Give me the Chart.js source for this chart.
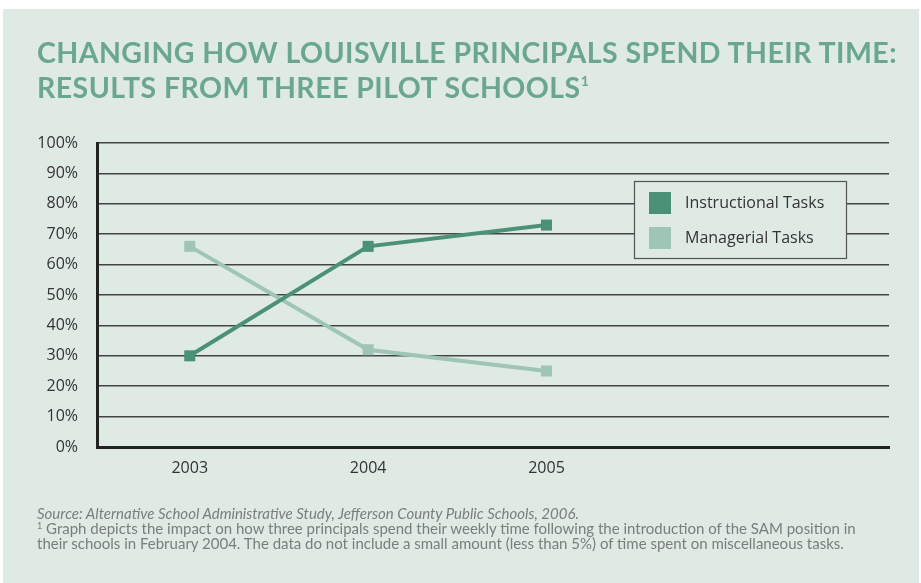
<!DOCTYPE html>
<html>
<head>
<meta charset="utf-8">
<script src="https://cdn.jsdelivr.net/npm/chart.js@4"></script>
<style>
  html, body { margin: 0; padding: 0; background: #ffffff; }
  body { width: 921px; height: 583px; position: relative; overflow: hidden; }
  #painel { position: absolute; left: 3px; top: 9px; width: 916px; height: 574px; background: #dfeae5; }
  #grafico { position: absolute; left: 0; top: 0; }
  #titulo {
    position: absolute; left: 37px; top: 35px; margin: 0;
    font-family: Lato, sans-serif; font-weight: 700; font-size: 28.5px; line-height: 35px;
    color: #6aa78c; letter-spacing: 0.45px; white-space: nowrap;
  }
  #titulo sup { font-size: 14px; vertical-align: 12px; line-height: 0; }
  #notas {
    position: absolute; left: 37px; top: 506px; margin: 0;
    font-family: Lato, sans-serif; font-size: 15px; line-height: 15px; color: #7a7d7c;
    white-space: nowrap;
  }
  #notas sup { font-size: 9px; vertical-align: 5px; line-height: 0; }
</style>
</head>
<body>
<div id="painel"></div>
<canvas id="grafico" width="921" height="583"></canvas>
<div id="titulo">CHANGING HOW LOUISVILLE PRINCIPALS SPEND THEIR TIME:<br>RESULTS FROM THREE PILOT SCHOOLS<sup>1</sup></div>
<div id="notas"><i>Source: Alternative School Administrative Study, Jefferson County Public Schools, 2006.</i><br><sup>1</sup> Graph depicts the impact on how three principals spend their weekly time following the introduction of the SAM position in<br>their schools in February 2004. The data do not include a small amount (less than 5%) of time spent on miscellaneous tasks.</div>
<script>
// Dados
const anos = [2003, 2004, 2005];
const instrucionais = [30, 66, 73];
const gerenciais = [66, 32, 25];
const rotulos = ['Instructional Tasks', 'Managerial Tasks'];
const cores = ['#4b9176', '#9ec5b5'];

// Legenda desenhada dentro da área do gráfico
const legendaCaixa = {
    id: 'legendaCaixa',
    afterDraw(chart) {
        const c = chart.ctx;
        const x = 634, y = 181, w = 212, h = 77;
        c.save();
        c.fillStyle = '#dfeae5';
        c.fillRect(x, y, w, h);
        c.strokeStyle = '#555555';
        c.lineWidth = 1.2;
        c.strokeRect(x + 0.5, y + 0.5, w, h);
        c.font = '16px "Open Sans", sans-serif';
        c.textBaseline = 'middle';
        chart.data.datasets.forEach((ds, i) => {
            const cy = y + 22 + i * 35;
            c.fillStyle = ds.borderColor;
            c.fillRect(x + 15, cy - 11, 22, 22);
            c.fillStyle = '#333333';
            c.fillText(ds.label, x + 51, cy);
        });
        c.restore();
    }
};

const ctx = document.getElementById('grafico').getContext('2d');
const grafico = new Chart(ctx, {
    type: 'line',
    data: {
        datasets: [
            {
                label: rotulos[0],
                data: anos.map((a, i) => ({ x: a, y: instrucionais[i] })),
                borderColor: cores[0],
                backgroundColor: cores[0],
                borderWidth: 4,
                pointStyle: 'rect',
                pointRadius: 7.8,
                pointBorderWidth: 0
            },
            {
                label: rotulos[1],
                data: anos.map((a, i) => ({ x: a, y: gerenciais[i] })),
                borderColor: cores[1],
                backgroundColor: cores[1],
                borderWidth: 4,
                pointStyle: 'rect',
                pointRadius: 7.8,
                pointBorderWidth: 0
            }
        ]
    },
    options: {
        responsive: false,
        animation: false,
        layout: { padding: { left: 0, top: 143, right: 32, bottom: 96 } },
        plugins: {
            legend: { display: false },
            title: { display: false },
            tooltip: { enabled: false }
        },
        scales: {
            x: {
                type: 'linear',
                min: 2002.48,
                max: 2006.92,
                afterBuildTicks: (s) => { s.ticks = anos.map(v => ({ value: v })); },
                afterFit: (s) => { s.height = 40; },
                grid: { display: false, drawTicks: false },
                border: { color: '#222222', width: 3 },
                ticks: {
                    padding: 12,
                    color: '#333333',
                    font: { family: '"Open Sans", sans-serif', size: 16 },
                    callback: (v) => String(v)
                }
            },
            y: {
                min: 0,
                max: 100,
                afterFit: (s) => { s.width = 97; },
                grid: { color: '#444444', lineWidth: 1.5, drawTicks: false },
                border: { color: '#222222', width: 3 },
                ticks: {
                    stepSize: 10,
                    padding: 19,
                    color: '#333333',
                    font: { family: '"Open Sans", sans-serif', size: 16 },
                    callback: (v) => v + '%'
                }
            }
        }
    },
    plugins: [legendaCaixa]
});
</script>
</body>
</html>
